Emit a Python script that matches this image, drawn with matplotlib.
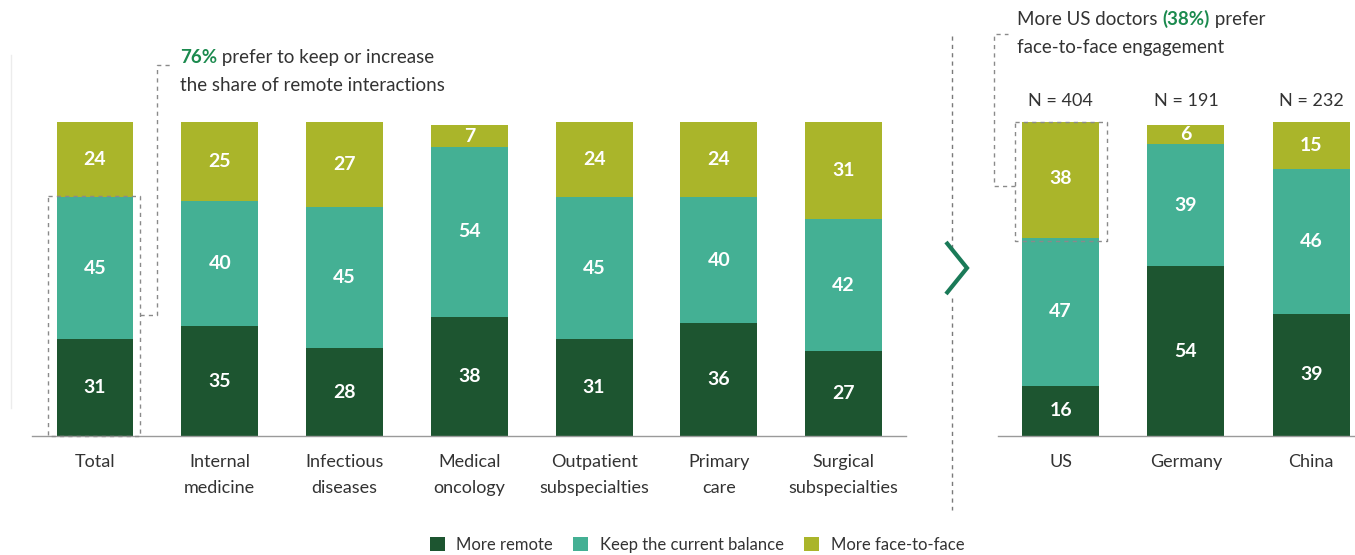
import matplotlib
matplotlib.use("Agg")
import matplotlib.pyplot as plt
from matplotlib.lines import Line2D
from matplotlib.patches import Patch
import numpy as np

plt.rcParams["font.family"] = ["Lato", "DejaVu Sans"]

# Specialty breakdown (%)
specialties = ["Total", "Internal\nmedicine", "Infectious\ndiseases", "Medical\noncology",
               "Outpatient\nsubspecialties", "Primary\ncare", "Surgical\nsubspecialties"]
spec_remote = [31, 35, 28, 38, 31, 36, 27]
spec_balance = [45, 40, 45, 54, 45, 40, 42]
spec_face = [24, 25, 27, 7, 24, 24, 31]

# Country breakdown (%)
countries = ["US", "Germany", "China"]
country_n = [404, 191, 232]
country_remote = [16, 54, 39]
country_balance = [47, 39, 46]
country_face = [38, 6, 15]

series_names = ["More remote", "Keep the current balance", "More face-to-face"]
colors = ["#1d5530", "#44b094", "#aab52a"]
text_dark = "#333333"
accent = "#1b8a4e"

W, H = 1355, 555
fig = plt.figure(figsize=(W / 100, H / 100), dpi=100)


def fx(x):
    return x / W


def fy(y):
    return 1 - y / H


def pix_line(xs, ys, **kw):
    fig.add_artist(Line2D([fx(x) for x in xs], [fy(y) for y in ys],
                          transform=fig.transFigure, **kw))


dash = dict(color="#8a8a8a", lw=1.0, linestyle=(0, (3, 3)))

base_px, top_px = 436, 122
ax_h = (base_px - top_px) / H


def stacked(ax, labels, remote, balance, face, width):
    x = np.arange(len(labels))
    bottom = np.zeros(len(labels))
    for vals, col in zip([remote, balance, face], colors):
        vals = np.array(vals, dtype=float)
        ax.bar(x, vals, width, bottom=bottom, color=col, edgecolor="none", zorder=2)
        for xi, b, v in zip(x, bottom, vals):
            ax.text(xi, b + v / 2, f"{int(v)}", ha="center", va="center",
                    color="white", fontsize=14, fontweight="bold", zorder=3)
        bottom += vals
    ax.set_ylim(0, 100)
    ax.set_xticks(x)
    ax.set_xticklabels(labels, fontsize=13, color=text_dark, linespacing=1.75)
    ax.tick_params(axis="x", length=0, pad=13)
    ax.set_yticks([])
    for s in ["top", "right", "left"]:
        ax.spines[s].set_visible(False)
    ax.spines["bottom"].set_color("#9a9a9a")
    ax.spines["bottom"].set_linewidth(1.0)
    ax.patch.set_alpha(0)
    return x


# Left panel: specialties
left_px, right_px = 32, 906
ax1 = fig.add_axes([fx(left_px), fy(base_px), (right_px - left_px) / W, ax_h])
stacked(ax1, specialties, spec_remote, spec_balance, spec_face, 0.617)
ax1.set_xlim(-0.505, 6.5)

# Right panel: countries
left2, right2 = 998, 1355
ax2 = fig.add_axes([fx(left2), fy(base_px), (right2 - left2) / W, ax_h])
stacked(ax2, countries, country_remote, country_balance, country_face, 0.615)
ax2.set_xlim(-0.5, 2.35)
for i, n in enumerate(country_n):
    ax2.text(i, 104, f"N = {n}", ha="center", va="bottom", fontsize=13,
             color=text_dark, clip_on=False)

# Faint frame line at the far left
pix_line([11, 11], [55, 408], color="#ececec", lw=1)

# Callout around "Total" remote + balance
pix_line([48, 140, 140, 48, 48], [196, 196, 436, 436, 196], **dash)
pix_line([140, 157, 157, 172], [315, 315, 65, 65], **dash)
t1 = fig.text(fx(180), fy(63), "76%", fontsize=13.5, fontweight="bold", color=accent,
              ha="left", va="baseline")
ax1.annotate(" prefer to keep or increase", xy=(1, 0), xycoords=t1, fontsize=13.5,
             color=text_dark, ha="left", va="bottom", annotation_clip=False)
fig.text(fx(180), fy(91), "the share of remote interactions", fontsize=13.5,
         color=text_dark, ha="left", va="baseline")

# Divider and chevron between panels
pix_line([952, 952], [36, 250], color="#7a7a7a", lw=1.0, linestyle=(0, (3, 3)))
pix_line([952, 952], [298, 510], color="#7a7a7a", lw=1.0, linestyle=(0, (3, 3)))
pix_line([946, 967, 946], [242, 268, 294], color="#1a7a58", lw=3.0,
         solid_capstyle="butt", solid_joinstyle="miter")

# Callout around US face-to-face
pix_line([1015, 1107, 1107, 1015, 1015], [122, 122, 241, 241, 122], **dash)
pix_line([1015, 994, 994, 1008], [186, 186, 34, 34], **dash)
t2 = fig.text(fx(1017), fy(25), "More US doctors ", fontsize=13.5, color=text_dark,
              ha="left", va="baseline")
t3 = ax2.annotate("(38%)", xy=(1, 0), xycoords=t2, fontsize=13.5, fontweight="bold",
                  color=accent, ha="left", va="bottom", annotation_clip=False)
ax2.annotate(" prefer", xy=(1, 0), xycoords=t3, fontsize=13.5, color=text_dark,
             ha="left", va="bottom", annotation_clip=False)
fig.text(fx(1017), fy(53), "face-to-face engagement", fontsize=13.5, color=text_dark,
         ha="left", va="baseline")

# Legend
handles = [Patch(facecolor=c, edgecolor="none") for c in colors]
fig.legend(handles, series_names, loc="center", bbox_to_anchor=(fx(697), fy(545)),
           ncol=3, frameon=False, fontsize=12, handlelength=0.9, handleheight=0.9,
           handletextpad=0.7, columnspacing=1.2, labelcolor=text_dark)

fig.savefig("out.png", dpi=100, facecolor="white")
